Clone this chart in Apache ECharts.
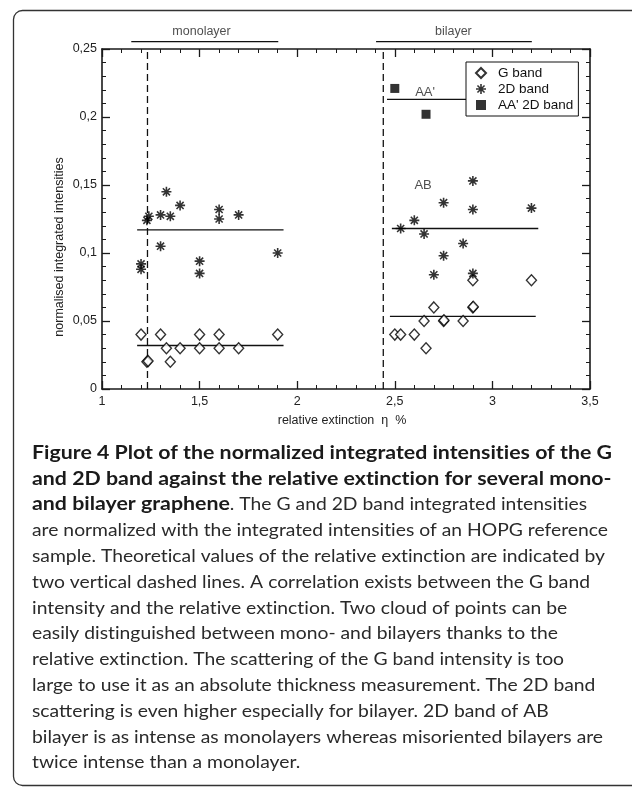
<!DOCTYPE html>
<html><head><meta charset="utf-8">
<script src="https://cdn.jsdelivr.net/npm/echarts@6/dist/echarts.min.js"></script>
<style>html,body{margin:0;padding:0;background:#fff}#c{width:632px;height:787px}</style>
</head><body><div id="c"></div>
<script>
// ---- data ----
const xTicks = [1, 1.5, 2, 2.5, 3, 3.5];
const yTicks = [0, 0.05, 0.1, 0.15, 0.2, 0.25];
const gBand = [[1.2,0.04],[1.3,0.04],[1.5,0.04],[1.6,0.04],[1.9,0.04],[1.33,0.03],[1.4,0.03],[1.5,0.03],[1.6,0.03],[1.7,0.03],[1.23,0.02],[1.236,0.0205],[1.35,0.02],
  [2.5,0.04],[2.53,0.04],[2.6,0.04],[2.66,0.03],[2.65,0.05],[2.7,0.06],[2.75,0.05],[2.752,0.0505],[2.85,0.05],[2.9,0.06],[2.902,0.0605],[2.9,0.08],[3.2,0.08]];
const band2D = [[1.2,0.092],[1.2,0.088],[1.23,0.124],[1.24,0.127],[1.3,0.128],[1.3,0.105],[1.33,0.145],[1.35,0.127],[1.4,0.135],[1.5,0.094],[1.5,0.085],[1.6,0.132],[1.6,0.125],[1.7,0.128],[1.9,0.1],
  [2.53,0.118],[2.6,0.124],[2.65,0.114],[2.7,0.084],[2.75,0.137],[2.75,0.098],[2.85,0.107],[2.9,0.153],[2.9,0.132],[2.9,0.085],[3.2,0.133]];
const aa2D = [[2.5,0.221],[2.66,0.202]];
const meanMono2D = [[1.18,0.117],[1.93,0.117]];
const meanMonoG = [[1.18,0.032],[1.93,0.032]];
const meanBi2D = [[2.485,0.118],[3.235,0.118]];
const meanBiG = [[2.475,0.0534],[3.222,0.0534]];
const meanAA = [[2.46,0.213],[3.22,0.213]];
const theoMono = [[1.233,0],[1.233,0.25]];
const theoBi = [[2.441,0],[2.441,0.25]];
const headerMono = [[1.15,0.2554],[1.903,0.2554]];
const headerBi = [[2.404,0.2554],[3.202,0.2554]];
const headerLabels = [[1.51,0.2627,'monolayer'],[2.80,0.2627,'bilayer']];
const plotLabels = [[2.655,0.2184,"AA'"],[2.645,0.150,'AB']];
const legendNames = ['G band','2D band',"AA' 2D band"];
const captionLines = [
  ['b','Figure 4 Plot of the normalized integrated intensities of the G'],
  ['b','and 2D band against the relative extinction for several mono-'],
  ['m','and bilayer graphene','. The G and 2D band integrated intensities'],
  ['n','are normalized with the integrated intensities of an HOPG reference'],
  ['n','sample. Theoretical values of the relative extinction are indicated by'],
  ['n','two vertical dashed lines. A correlation exists between the G band'],
  ['n','intensity and the relative extinction. Two cloud of points can be'],
  ['n','easily distinguished between mono- and bilayers thanks to the'],
  ['n','relative extinction. The scattering of the G band intensity is too'],
  ['n','large to use it as an absolute thickness measurement. The 2D band'],
  ['n','scattering is even higher especially for bilayer. 2D band of AB'],
  ['n','bilayer is as intense as monolayers whereas misoriented bilayers are'],
  ['n','twice intense than a monolayer.']
];

// ---- chart ----
const AX = '#1a1a1a';
const FONT = 'Liberation Sans';
const fmt = v => String(+v.toFixed(3)).replace('.', ',');
const ASTER = 'path://M42 0L58 0L58 100L42 100Z M0 42L100 42L100 58L0 58Z M20 9L91 80L80 91L9 20Z M80 9L91 20L20 91L9 80Z';

function xAxisCfg(pos, show){
  return {type:'value', position:pos, min:xTicks[0], max:xTicks[xTicks.length-1], interval:0.5,
    axisLine:{show:true,onZero:false,lineStyle:{color:AX,width:1.6}},
    axisTick:{show:true,inside:true,length:8,lineStyle:{color:AX,width:1.3}},
    minorTick:{show:true,splitNumber:5,length:4,lineStyle:{color:AX,width:1}},
    splitLine:{show:false},
    axisLabel:{show:show,formatter:fmt,color:'#222',fontFamily:FONT,fontSize:12.5,margin:6}};
}
function yAxisCfg(pos, show){
  return {type:'value', position:pos, min:yTicks[0], max:yTicks[yTicks.length-1], interval:0.05,
    axisLine:{show:true,onZero:false,lineStyle:{color:AX,width:1.6}},
    axisTick:{show:true,inside:true,length:8,lineStyle:{color:AX,width:1.3}},
    minorTick:{show:true,splitNumber:5,length:4,lineStyle:{color:AX,width:1}},
    splitLine:{show:false},
    axisLabel:{show:show,formatter:fmt,color:'#222',fontFamily:FONT,fontSize:12.5,margin:5}};
}
function lineSeries(data, dashed, clip){
  return {type:'line', data:data, symbol:'none', silent:true, clip:clip!==false, z:1,
    lineStyle:{color:'#111', width:1.3, type: dashed ? [7,4] : 'solid'}};
}
function labelSeries(data, size){
  return {type:'scatter', data:data, symbolSize:0, silent:true, clip:false,
    label:{show:true, position:'inside', formatter:p=>p.data[2], color:'#222', fontFamily:FONT, fontSize:size}};
}

const chart = echarts.init(document.getElementById('c'), null, {renderer:'canvas'});

// caption measurement
const ctx = document.createElement('canvas').getContext('2d');
const CF = 'Lato';
const CS = 18;
const nolig = t => t.replace(/t(?=i)/g, 't\u200C').replace(/f(?=[il])/g, 'f\u200C');
function mw(t, bold){ ctx.font = (bold?'bold ':'')+CS+'px '+CF; return ctx.measureText(nolig(t)).width; }
const scaleB = 580 / mw(captionLines[0][1], true);
const scaleN = 576 / mw(captionLines[3][1], false);
const capX = 32, capY0 = 453, capDY = 25.8;
const graphics = [];
graphics.push({type:'rect', shape:{x:13.5,y:10.5,width:640,height:775,r:9}, style:{fill:'none',stroke:'#333',lineWidth:1.3}, silent:true});
function capText(x, y, t, bold){
  return {type:'text', x:x, y:y, scaleX: bold?scaleB:scaleN, silent:true,
    style:{text:nolig(t), font:(bold?'bold ':'')+CS+'px '+CF, fill:bold?'#1a1a1a':'#2a2a2a', verticalAlign:'middle'}};
}
captionLines.forEach((ln,i)=>{
  const y = capY0 + i*capDY;
  if (ln[0]==='m'){
    graphics.push(capText(capX, y, ln[1], true));
    graphics.push(capText(capX + scaleB*mw(ln[1],true), y, ln[2], false));
  } else {
    graphics.push(capText(capX, y, ln[1], ln[0]==='b'));
  }
});
graphics.push({type:'text', x:60, y:247, rotation:Math.PI/2, silent:true, style:{text:'normalised integrated intensities', font:'12.5px '+FONT, fill:'#222', align:'center', verticalAlign:'middle'}});
graphics.push({type:'text', x:342, y:421, silent:true, style:{text:'relative extinction  \u03b7  %', font:'12.5px '+FONT, fill:'#222', align:'center', verticalAlign:'middle'}});

chart.setOption({
  animation:false,
  backgroundColor:'#fff',
  grid:{left:102, right:42, top:49, bottom:398, containLabel:false},
  xAxis:[xAxisCfg('bottom', true), xAxisCfg('top', false)],
  yAxis:[yAxisCfg('left', true), yAxisCfg('right', false)],
  legend:{data:legendNames, orient:'vertical', left:466, top:62, z:10,
    backgroundColor:'#fff', borderColor:'#111', borderWidth:1, borderRadius:0,
    padding:[4,5,4,9], itemGap:2, itemWidth:10, itemHeight:10,
    textStyle:{fontFamily:FONT, fontSize:13.5, color:'#111', padding:[0,0,0,7]}},
  graphic:graphics,
  series:[
    lineSeries(theoMono, true), lineSeries(theoBi, true),
    lineSeries(meanMono2D), lineSeries(meanMonoG), lineSeries(meanBi2D), lineSeries(meanBiG), lineSeries(meanAA),
    lineSeries(headerMono, false, false), lineSeries(headerBi, false, false),
    labelSeries(headerLabels, 12.5), labelSeries(plotLabels, 13),
    {name:'G band', type:'scatter', data:gBand, symbol:'diamond', symbolSize:[10,11], z:3,
      itemStyle:{color:'#fff', borderColor:'#000', borderWidth:1.4}},
    {name:'2D band', type:'scatter', data:band2D, symbol:ASTER, symbolSize:10, z:4,
      itemStyle:{color:'#000'}},
    {name:"AA' 2D band", type:'scatter', data:aa2D, symbol:'rect', symbolSize:9, z:4,
      itemStyle:{color:'#000'}}
  ]
});
</script></body></html>
